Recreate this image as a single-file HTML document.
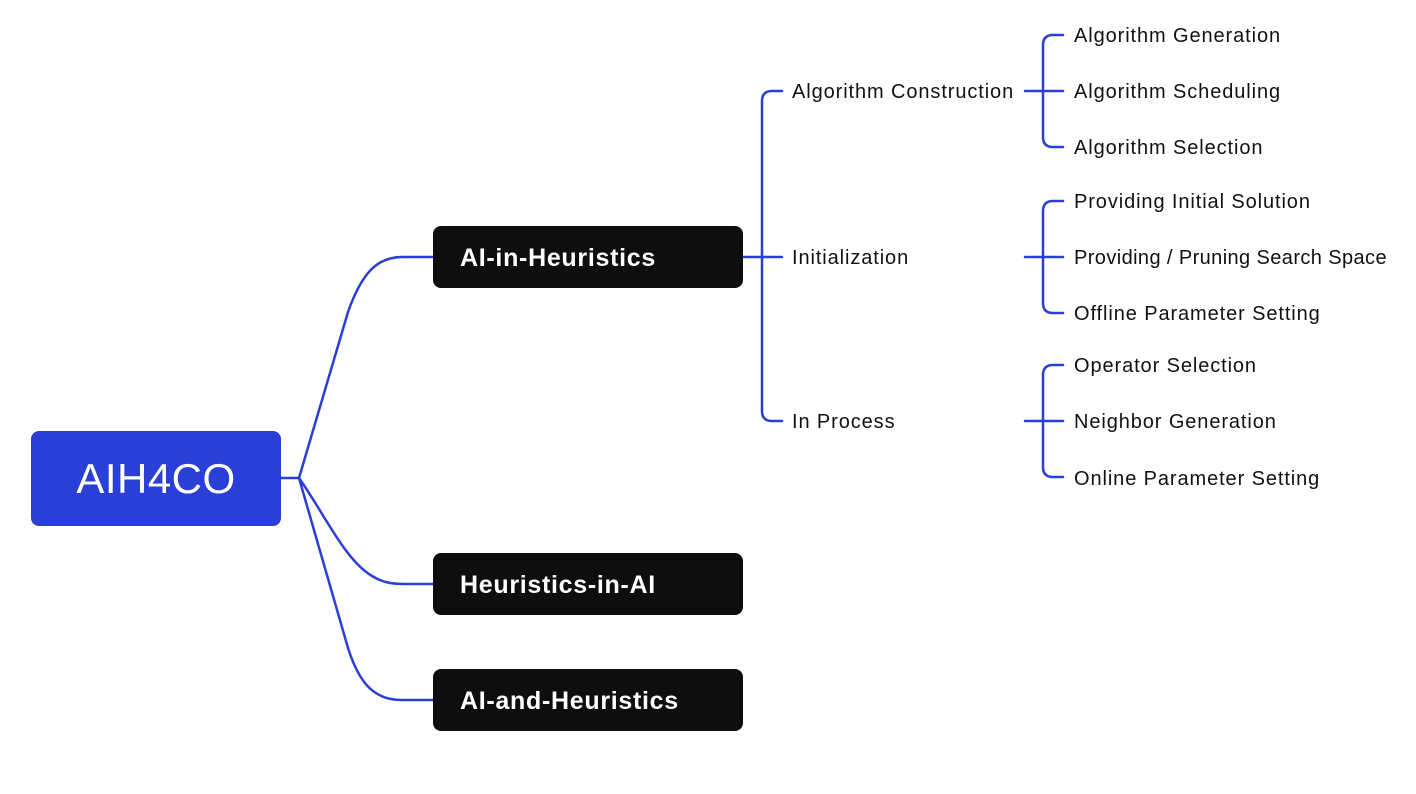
<!DOCTYPE html>
<html><head><meta charset="utf-8"><style>
html,body{margin:0;padding:0;background:#fff;}
svg{display:block;}
text{font-family:"Liberation Sans",sans-serif;}
</style></head><body>
<svg width="1416" height="794" viewBox="0 0 1416 794" xmlns="http://www.w3.org/2000/svg">
<g fill="none" stroke="#2a3fd6" stroke-width="2.5" stroke-linecap="round">
<path d="M281 478 L299 478"/>
<path d="M299 478 L348 312 C362 272 378 257 402 257 L433 257"/>
<path d="M299 478 C325 515 345 560 372 576 C382 582 390 584 405 584 L433 584"/>
<path d="M299 478 L348 648 C360 686 376 700 402 700 L433 700"/>
<path d="M743 257 L782 257"/>
<path d="M782 91 L772 91 Q762 91 762 101 L762 411 Q762 421 772 421 L782 421"/>
<path d="M1025 91 L1063 91"/>
<path d="M1063 35 L1053 35 Q1043 35 1043 45 L1043 137 Q1043 147 1053 147 L1063 147"/>
<path d="M1025 257 L1063 257"/>
<path d="M1063 201 L1053 201 Q1043 201 1043 211 L1043 303 Q1043 313 1053 313 L1063 313"/>
<path d="M1025 421 L1063 421"/>
<path d="M1063 365 L1053 365 Q1043 365 1043 375 L1043 467 Q1043 477 1053 477 L1063 477"/>
</g>
<rect x="31" y="431" width="250" height="95" rx="8" fill="#2a3fd6"/>
<text x="156" y="493" fill="#fff" font-size="42" text-anchor="middle" letter-spacing="0.5">AIH4CO</text>
<rect x="433" y="226" width="310" height="62" rx="8" fill="#0e0e0e"/>
<rect x="433" y="553" width="310" height="62" rx="8" fill="#0e0e0e"/>
<rect x="433" y="669" width="310" height="62" rx="8" fill="#0e0e0e"/>
<g fill="#fff" font-size="25" font-weight="bold" letter-spacing="0.7">
<text x="460" y="266">AI-in-Heuristics</text>
<text x="460" y="593">Heuristics-in-AI</text>
<text x="460" y="709">AI-and-Heuristics</text>
</g>
<g fill="#111" font-size="20" letter-spacing="0.9">
<text x="792" y="98">Algorithm Construction</text>
<text x="792" y="264">Initialization</text>
<text x="792" y="428">In Process</text>
<text x="1074" y="42">Algorithm Generation</text>
<text x="1074" y="98">Algorithm Scheduling</text>
<text x="1074" y="154">Algorithm Selection</text>
<text x="1074" y="208">Providing Initial Solution</text>
<text x="1074" y="264" letter-spacing="0.4">Providing / Pruning Search Space</text>
<text x="1074" y="320">Offline Parameter Setting</text>
<text x="1074" y="372">Operator Selection</text>
<text x="1074" y="428">Neighbor Generation</text>
<text x="1074" y="485">Online Parameter Setting</text>
</g>
</svg>
</body></html>
